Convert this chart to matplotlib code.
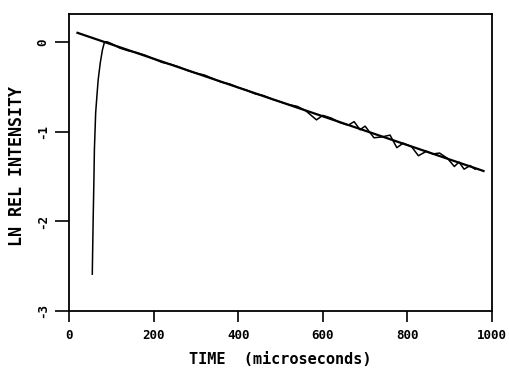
import numpy as np
import matplotlib.pyplot as plt

# measured decay (ln of relative intensity vs time in microseconds)
time_us = [55, 57, 59, 60, 63, 66, 69, 74, 79, 84, 90,
           100, 120, 140, 160, 180, 200, 220, 240, 260, 280,
           300, 320, 340, 360, 380, 400, 420, 440, 460, 480,
           500, 520, 540, 560, 585, 600, 620, 640, 660, 674,
           688, 700, 721, 740, 759, 775, 790, 810, 826, 845,
           860, 876, 895, 911, 922, 934, 948, 960]
ln_int = [-2.59, -2.0, -1.5, -1.2, -0.79, -0.6, -0.42, -0.23, -0.09, 0.0, 0.0,
          -0.02, -0.07, -0.10, -0.12, -0.15, -0.19, -0.23, -0.25, -0.28, -0.32,
          -0.35, -0.37, -0.41, -0.45, -0.47, -0.51, -0.54, -0.58, -0.60, -0.64,
          -0.67, -0.70, -0.72, -0.77, -0.87, -0.82, -0.85, -0.90, -0.93, -0.89,
          -0.98, -0.94, -1.07, -1.06, -1.04, -1.18, -1.13, -1.17, -1.27, -1.22,
          -1.25, -1.24, -1.30, -1.39, -1.34, -1.42, -1.38, -1.42]

# linear fit endpoints
fit_t = [20, 980]
fit_ln = [0.10, -1.44]

plt.rcParams['font.family'] = 'DejaVu Sans Mono'
fig = plt.figure(figsize=(5.09, 3.68), dpi=100)
ax = fig.add_axes([0.1356, 0.155, 0.831, 0.807])

ax.plot(time_us, ln_int, color='black', lw=1.1)
ax.plot(fit_t, fit_ln, color='black', lw=1.6)

ax.set_xlim(0, 1000)
ax.set_ylim(-3, 0.31)
ax.set_xticks([0, 200, 400, 600, 800, 1000])
ax.set_yticks([0, -1, -2, -3])
ax.set_xticklabels(['0', '200', '400', '600', '800', '1000'], fontweight='bold', fontsize=9)
ax.set_yticklabels(['0', '-1', '-2', '-3'], fontweight='bold', fontsize=9, rotation=90, va='center')
ax.tick_params(axis='x', direction='out', length=8, width=1.2, pad=5, top=False)
ax.tick_params(axis='y', direction='out', length=10, width=1.2, pad=4, right=False)
for s in ax.spines.values():
    s.set_linewidth(1.3)

ax.set_xlabel('TIME  (microseconds)', fontsize=11, fontweight='bold', va='center')
ax.xaxis.set_label_coords(0.5, -0.163)
ax.set_ylabel('LN REL INTENSITY', fontsize=12, fontweight='bold', va='center')
ax.yaxis.set_label_coords(-0.122, 0.488)

fig.savefig('out.png', dpi=100)
